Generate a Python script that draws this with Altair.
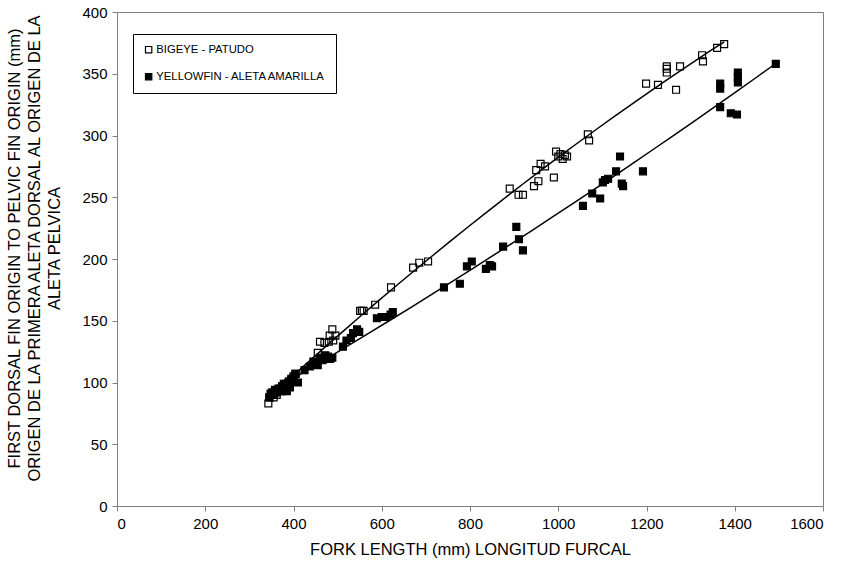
import altair as alt
import pandas as pd

# Bigeye tuna: fork length (mm) vs first dorsal origin to pelvic origin (mm)
bigeye_fl = [343, 346, 350, 355, 358, 362, 366, 370, 374, 378, 382, 386, 390, 395,
             400, 404, 455, 460, 470, 480, 482, 488, 490, 495, 551, 555, 559, 585,
             621, 671, 685, 705, 890, 910, 920, 945, 950, 955, 960, 970, 990, 995,
             1000, 1005, 1010, 1015, 1020, 1067, 1070, 1199, 1226, 1246, 1246, 1246,
             1267, 1276, 1326, 1328, 1360, 1376]
bigeye_len = [83, 88, 90, 88, 92, 90, 94, 95, 93, 97, 99, 98, 101, 103,
              105, 107, 124, 133, 132, 133, 138, 143, 134, 138, 158, 158, 158, 163,
              177, 193, 197, 198, 257, 252, 252, 259, 272, 263, 277, 275, 266, 287,
              283, 285, 281, 284, 283, 301, 296, 342, 341, 356, 354, 351,
              337, 356, 365, 360, 371, 374]

# Yellowfin tuna
yellowfin_fl = [345, 348, 352, 355, 358, 362, 366, 370, 374, 378, 382, 385, 388, 392,
                395, 400, 405, 410, 425, 437, 445, 455, 460, 466, 472, 478, 483, 488,
                512, 520, 530, 535, 544, 549, 589, 600, 610, 620, 625, 741, 777, 793,
                804, 836, 845, 850, 875, 905, 911, 920, 1056, 1077, 1095, 1101, 1106,
                1113, 1131, 1140, 1144, 1147, 1192, 1367, 1367, 1367, 1391, 1405, 1407,
                1407, 1407, 1493]
yellowfin_len = [88, 91, 92, 90, 94, 92, 95, 93, 97, 99, 95, 93, 100, 96,
                 102, 104, 107, 100, 110, 113, 117, 114, 120, 118, 122, 121, 119, 120,
                 129, 134, 136, 140, 143, 141, 152, 153, 153, 155, 157, 177, 180, 194,
                 198, 192, 195, 194, 210, 226, 216, 207, 243, 253, 249, 262, 264,
                 265, 271, 283, 261, 259, 271, 342, 338, 323, 318, 317, 351,
                 347, 343, 358]

series = ["BIGEYE - PATUDO", "YELLOWFIN - ALETA AMARILLA"]

df = pd.concat([
    pd.DataFrame({"fl": bigeye_fl, "len": bigeye_len, "species": series[0]}),
    pd.DataFrame({"fl": yellowfin_fl, "len": yellowfin_len, "species": series[1]}),
], ignore_index=True)

FONT = "Liberation Sans"

x_enc = alt.X("fl:Q", scale=alt.Scale(domain=[0, 1600], nice=False),
              axis=alt.Axis(values=list(range(0, 1601, 200)), format="d",
                            title="FORK LENGTH (mm) LONGITUD FURCAL",
                            titleY=35, titleBaseline="top"))
y_enc = alt.Y("len:Q", scale=alt.Scale(domain=[0, 400], nice=False),
              axis=alt.Axis(values=list(range(0, 401, 50)), format="d",
                            title=["FIRST DORSAL FIN ORIGIN TO PELVIC FIN ORIGIN (mm)",
                                   "ORIGEN DE LA PRIMERA ALETA DORSAL AL ORIGEN DE LA",
                                   "ALETA PELVICA"],
                            titleX=-111, titleY=236, titleAlign="center",
                            titleBaseline="top", titleAngle=-90, titleLineHeight=20))

base = alt.Chart(df)

# fitted curve per species
fit = base.transform_regression(
    "fl", "len", method="poly", order=2, groupby=["species"]
).mark_line(color="black", strokeWidth=1.5).encode(
    x=x_enc, y=y_enc, detail="species:N"
)

pts = base.mark_square(size=48, strokeWidth=1.2, opacity=1).encode(
    x=x_enc, y=y_enc,
    fill=alt.Fill("species:N", sort=series,
                  scale=alt.Scale(domain=series, range=["transparent", "black"]),
                  legend=alt.Legend(title=None)),
    stroke=alt.Stroke("species:N", sort=series,
                      scale=alt.Scale(domain=series, range=["black", "black"]),
                      legend=alt.Legend(title=None)),
)

chart = alt.layer(fit, pts).properties(
    width=706, height=494,
    autosize=alt.AutoSizeParams(type="none"),
    padding={"left": 117, "top": 12, "right": 20, "bottom": 66},
).configure_view(
    stroke="#808080", strokeWidth=1
).configure_axis(
    grid=False, domainColor="#808080", tickColor="#808080", tickSize=5,
    labelFont=FONT, labelFontSize=15, labelColor="black", labelPadding=5,
    titleFont=FONT, titleFontSize=16.5, titleColor="black", titleFontWeight="normal",
).configure_legend(
    orient="none", legendX=16, legendY=22,
    strokeColor="black", fillColor="white", padding=10,
    symbolType="square", symbolSize=40, symbolStrokeWidth=1.2,
    labelFont=FONT, labelFontSize=11.3, labelColor="black", labelLimit=400,
    rowPadding=14, labelOffset=2,
)

chart.save("out.html", embed_options={"renderer": "svg", "actions": False})
